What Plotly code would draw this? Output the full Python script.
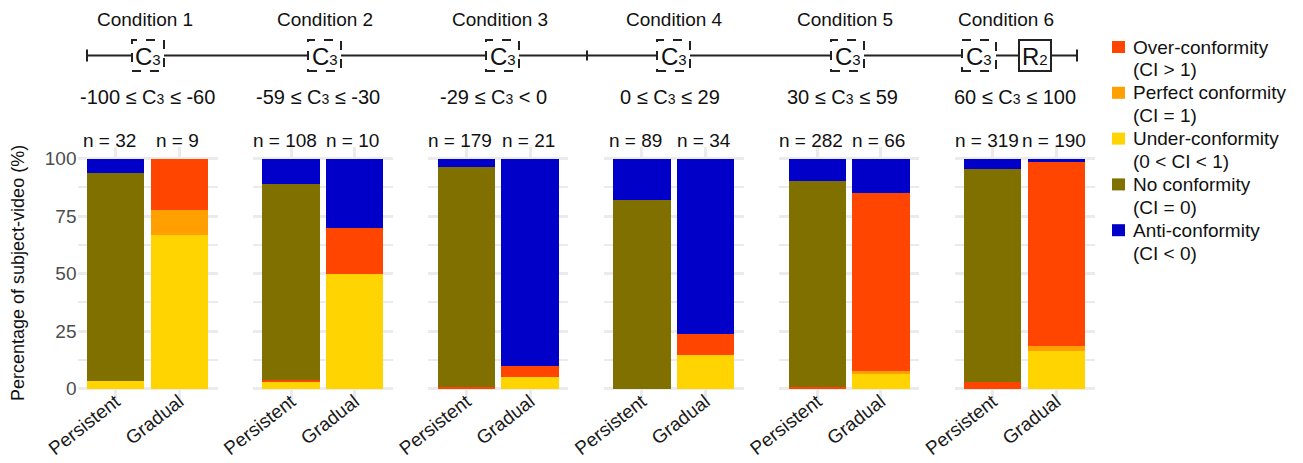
import plotly.graph_objects as go

W, H = 1303, 463

# ---------------- data ----------------
conditions = ["Condition 1", "Condition 2", "Condition 3", "Condition 4", "Condition 5", "Condition 6"]
S = "<span style='font-size:14px'>3</span>"
range_labels = [
    f"-100 ≤ C{S} ≤ -60",
    f"-59 ≤ C{S} ≤ -30",
    f"-29 ≤ C{S} < 0",
    f"0 ≤ C{S} ≤ 29",
    f"30 ≤ C{S} ≤ 59",
    f"60 ≤ C{S} ≤ 100",
]
types = ["Persistent", "Gradual"]
n_persistent = [32, 108, 179, 89, 282, 319]
n_gradual = [9, 10, 21, 34, 66, 190]

# percentages (Persistent / Gradual) per condition
under_p = [3.1, 2.8, 0.0, 0.0, 0.0, 0.0]
under_g = [66.7, 50.0, 4.8, 14.7, 6.1, 16.3]
perfect_p = [0.0, 0.0, 0.0, 0.0, 0.0, 0.0]
perfect_g = [11.1, 0.0, 0.0, 0.0, 1.5, 2.1]
over_p = [0.0, 0.9, 0.6, 0.0, 0.7, 2.8]
over_g = [22.2, 20.0, 4.8, 8.8, 77.3, 80.0]
none_p = [90.6, 85.2, 95.5, 82.0, 89.7, 92.5]
none_g = [0.0, 0.0, 0.0, 0.0, 0.0, 0.0]
anti_p = [6.3, 11.1, 3.9, 18.0, 9.6, 4.7]
anti_g = [0.0, 30.0, 90.4, 76.5, 15.1, 1.6]

y_ticks = [0, 25, 50, 75, 100]

# legend (top -> bottom): label line 1, label line 2, colour
legend_items = [
    ("Over-conformity", "(CI > 1)", "#FF4500"),
    ("Perfect conformity", "(CI = 1)", "#FFA000"),
    ("Under-conformity", "(0 < CI < 1)", "#FFD400"),
    ("No conformity", "(CI = 0)", "#807000"),
    ("Anti-conformity", "(CI < 0)", "#0000C8"),
]

# stacking order bottom -> top
series = [
    ("Under-conformity (0 < CI < 1)", under_p, under_g, "#FFD400"),
    ("Perfect conformity (CI = 1)", perfect_p, perfect_g, "#FFA000"),
    ("Over-conformity (CI > 1)", over_p, over_g, "#FF4500"),
    ("No conformity (CI = 0)", none_p, none_g, "#807000"),
    ("Anti-conformity (CI < 0)", anti_p, anti_g, "#0000C8"),
]

FONT = "Arial, Liberation Sans, sans-serif"


def px(x):
    return x / W


def py(y):
    return 1 - y / H


fig = go.Figure()

panel_left = [77.5 + 175.4 * i for i in range(6)]
panel_w = 140
y_top, y_bot = 147, 400

for i in range(6):
    ax = "" if i == 0 else str(i + 1)
    for name, pv, gv, color in series:
        fig.add_trace(go.Bar(
            x=types, y=[pv[i], gv[i]], name=name,
            marker=dict(color=color, line=dict(width=0)),
            xaxis="x" + ax, yaxis="y" + ax,
            showlegend=False, hoverinfo="skip",
        ))
    fig.layout["xaxis" + ax] = dict(
        domain=[px(panel_left[i]), px(panel_left[i] + panel_w)],
        anchor="y" + ax, type="category", range=[-0.6, 1.6],
        showgrid=True, gridcolor="#EBEBEB", gridwidth=2.5,
        ticks="", tickangle=-38, ticklabelstandoff=-14,
        zeroline=False, showline=False,
        tickfont=dict(family=FONT, size=19, color="#1A1A1A"),
        automargin=False, fixedrange=True,
    )
    fig.layout["yaxis" + ax] = dict(
        domain=[py(y_bot), py(y_top)], anchor="x" + ax,
        range=[-5, 105], tickvals=y_ticks,
        showgrid=True, gridcolor="#EBEBEB", gridwidth=2.5,
        minor=dict(tickvals=[12.5, 37.5, 62.5, 87.5], showgrid=True,
                   gridcolor="#EBEBEB", gridwidth=1.5),
        zeroline=False, showline=False, ticks="",
        showticklabels=(i == 0),
        tickfont=dict(family=FONT, size=19, color="#4D4D4D"),
        automargin=False, fixedrange=True,
    )
    # n labels
    for t, n, sh in zip(types, [n_persistent[i], n_gradual[i]], [-6, -2]):
        fig.add_annotation(
            x=t, y=py(140), xref="x" + ax, yref="paper", xshift=sh,
            text=f"n = {n}", showarrow=False, xanchor="center", yanchor="middle",
            font=dict(family=FONT, size=19, color="#111111"),
        )

# ---------------- timeline diagram ----------------
title_x = [145, 325, 500, 674, 845, 1006]
range_x = [147.5, 317.5, 494, 670, 842, 1015]
c3_boxes = [(132, 164), (308, 341), (486, 519), (657, 690), (831, 864), (962, 996)]
r2_box = (1019, 1051)
line_y = 55.5
box_top, box_bot = 40, 71

shapes = []
shapes.append(dict(type="line", xref="paper", yref="paper", x0=px(87), x1=px(1077),
                   y0=py(line_y), y1=py(line_y), line=dict(color="#222222", width=2)))
for xt, half in [(87, 6), (587, 5), (1077, 6)]:
    shapes.append(dict(type="line", xref="paper", yref="paper", x0=px(xt), x1=px(xt),
                       y0=py(line_y - half), y1=py(line_y + half),
                       line=dict(color="#222222", width=2)))
for x0, x1 in c3_boxes:
    shapes.append(dict(type="rect", xref="paper", yref="paper", x0=px(x0), x1=px(x1),
                       y0=py(box_bot), y1=py(box_top), fillcolor="white",
                       line=dict(color="#222222", width=2, dash="dash")))
shapes.append(dict(type="rect", xref="paper", yref="paper", x0=px(r2_box[0]), x1=px(r2_box[1]),
                   y0=py(box_bot), y1=py(box_top), fillcolor="white",
                   line=dict(color="#222222", width=2)))

annotations = []
for (x0, x1) in c3_boxes:
    annotations.append(dict(x=px((x0 + x1) / 2), y=py(line_y + 1), xref="paper", yref="paper",
                            text="C<span style='font-size:15px'>3</span>", showarrow=False,
                            xanchor="center", yanchor="middle",
                            font=dict(family=FONT, size=24, color="#111111")))
annotations.append(dict(x=px((r2_box[0] + r2_box[1]) / 2), y=py(line_y + 1), xref="paper", yref="paper",
                        text="R<span style='font-size:15px'>2</span>", showarrow=False,
                        xanchor="center", yanchor="middle",
                        font=dict(family=FONT, size=24, color="#111111")))
for i in range(6):
    annotations.append(dict(x=px(title_x[i]), y=py(19), xref="paper", yref="paper",
                            text=conditions[i], showarrow=False, xanchor="center", yanchor="middle",
                            font=dict(family=FONT, size=19, color="#111111")))
    annotations.append(dict(x=px(range_x[i]), y=py(97), xref="paper", yref="paper",
                            text=range_labels[i], showarrow=False, xanchor="center", yanchor="middle",
                            font=dict(family=FONT, size=20, color="#111111")))
annotations.append(dict(x=px(18), y=py(273), xref="paper", yref="paper",
                        text="Percentage of subject-video (%)", showarrow=False, textangle=-90,
                        xanchor="center", yanchor="middle",
                        font=dict(family=FONT, size=18, color="#111111")))

# ---------------- legend (drawn manually) ----------------
leg_y0, leg_step, leg_line = 47, 45.8, 22.8
for k, (l1, l2, color) in enumerate(legend_items):
    yc = leg_y0 + k * leg_step
    shapes.append(dict(type="rect", xref="paper", yref="paper",
                       x0=px(1112), x1=px(1125), y0=py(yc + 6), y1=py(yc - 6),
                       fillcolor=color, line=dict(width=0)))
    for j, txt in enumerate([l1, l2]):
        annotations.append(dict(x=px(1131), y=py(yc + j * leg_line), xref="paper", yref="paper",
                                text=txt, showarrow=False, xanchor="left", yanchor="middle",
                                font=dict(family=FONT, size=19, color="#111111")))

for a in annotations:
    fig.add_annotation(**a)

fig.update_layout(
    width=W, height=H,
    margin=dict(l=0, r=0, t=0, b=0, autoexpand=False),
    paper_bgcolor="white", plot_bgcolor="white",
    barmode="stack", bargap=0.1,
    shapes=shapes,
    showlegend=False,
    font=dict(family=FONT),
)

fig.write_html("out.html", config={"displayModeBar": False},
               post_script="document.body.style.margin='0';document.body.style.overflow='hidden';")
